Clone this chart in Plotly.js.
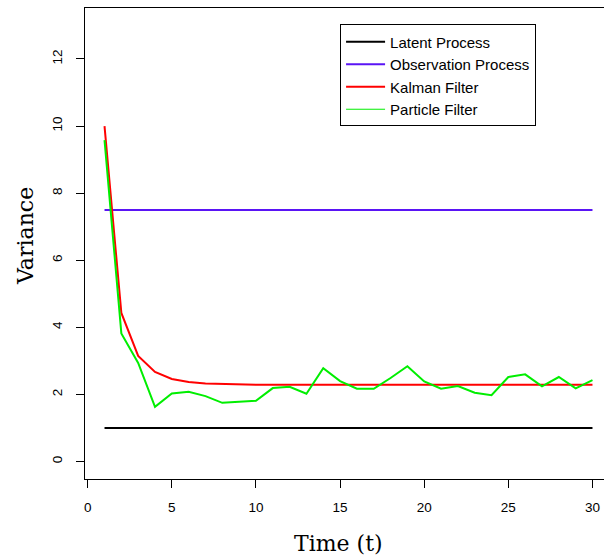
<!DOCTYPE html>
<html>
<head>
<meta charset="utf-8">
<script src="https://cdn.plot.ly/plotly-3.0.1.min.js"></script>
<style>
html, body { margin:0; padding:0; overflow:hidden; background:#fff; }
#wrap { width:604px; height:560px; overflow:hidden; }
#chart { width:620px; height:560px; }
</style>
</head>
<body>
<div id="wrap"><div id="chart"></div></div>
<script>
const time = [1,2,3,4,5,6,7,8,9,10,11,12,13,14,15,16,17,18,19,20,21,22,23,24,25,26,27,28,29,30];
const latent = [1,1,1,1,1,1,1,1,1,1,1,1,1,1,1,1,1,1,1,1,1,1,1,1,1,1,1,1,1,1];
const observation = [7.5,7.5,7.5,7.5,7.5,7.5,7.5,7.5,7.5,7.5,7.5,7.5,7.5,7.5,7.5,7.5,7.5,7.5,7.5,7.5,7.5,7.5,7.5,7.5,7.5,7.5,7.5,7.5,7.5,7.5];
const kalman = [10,4.43,3.15,2.67,2.46,2.37,2.33,2.31,2.30,2.29,2.29,2.29,2.29,2.29,2.29,2.29,2.29,2.29,2.29,2.29,2.29,2.29,2.29,2.29,2.29,2.29,2.29,2.29,2.29,2.29];
const particle = [9.58,3.82,2.94,1.63,2.03,2.08,1.95,1.75,1.78,1.81,2.19,2.23,2.02,2.78,2.40,2.17,2.17,2.49,2.84,2.39,2.17,2.25,2.05,1.98,2.52,2.60,2.24,2.52,2.18,2.43];
const seriesNames = ["Latent Process","Observation Process","Kalman Filter","Particle Filter"];
const xTicks = [0,5,10,15,20,25,30];
const yTicks = [0,2,4,6,8,10,12];

const colors = ["#000000","#5a14f5","#ff0000","#00ee00"];

const traces = [
  {x: time, y: latent, mode:"lines", name: seriesNames[0], line:{color:colors[0], width:2}},
  {x: time, y: observation, mode:"lines", name: seriesNames[1], line:{color:colors[1], width:2}},
  {x: time, y: kalman, mode:"lines", name: seriesNames[2], line:{color:colors[2], width:2}},
  {x: time, y: particle, mode:"lines", name: seriesNames[3], showlegend:false, legendgroup:"pf", line:{color:colors[3], width:2}},
  {x: [null], y: [null], mode:"lines", name: seriesNames[3], legendgroup:"pf", line:{color:colors[3], width:1}}
];

const tickFont = {family:"Liberation Sans, Arial, sans-serif", size:13.5, color:"#000"};
const titleFont = {family:"DejaVu Serif, serif", size:22, color:"#000"};

const layout = {
  width:620, height:560,
  margin:{l:85, r:8, t:8, b:81},
  paper_bgcolor:"#fff", plot_bgcolor:"#fff",
  showlegend:true,
  legend:{
    x:0.484, y:0.965, xanchor:"left", yanchor:"top",
    bordercolor:"#000", borderwidth:1, bgcolor:"#fff",
    font:{family:"Liberation Sans, Arial, sans-serif", size:15, color:"#000"},
    tracegroupgap:0, itemwidth:39
  },
  xaxis:{
    range:[-0.16,31.16], tickvals:xTicks, ticktext:xTicks.map(String),
    showgrid:false, zeroline:false, showline:true, mirror:true, linecolor:"#000", linewidth:1,
    ticks:"outside", ticklen:8, tickcolor:"#000", tickwidth:1, tickfont:tickFont,
    ticklabelstandoff:8
  },
  yaxis:{
    range:[-0.52,13.52], tickvals:yTicks, ticktext:yTicks.map(String),
    showgrid:false, zeroline:false, showline:true, mirror:true, linecolor:"#000", linewidth:1,
    ticks:"outside", ticklen:8, tickcolor:"#000", tickwidth:1, tickfont:tickFont,
    tickangle:-90, ticklabelstandoff:9
  },
  annotations:[
    {text:"Time (t)", xref:"paper", yref:"paper", x:(338-85)/527, y:-(543-479)/471, xanchor:"center", yanchor:"middle", showarrow:false, font:titleFont},
    {text:"Variance", xref:"paper", yref:"paper", x:-(85-25)/527, y:(479-236)/471, xanchor:"center", yanchor:"middle", textangle:-90, showarrow:false, font:titleFont}
  ]
};

Plotly.newPlot("chart", traces, layout, {displayModeBar:false, staticPlot:true});
</script>
</body>
</html>
